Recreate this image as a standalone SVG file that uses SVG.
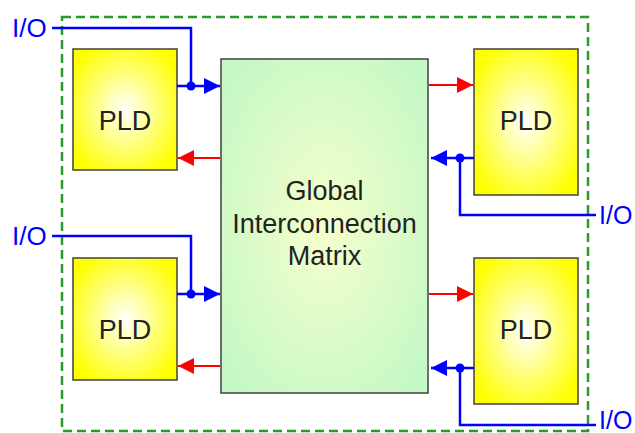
<svg xmlns="http://www.w3.org/2000/svg" width="635" height="433" viewBox="0 0 635 433">
<defs>
<radialGradient id="gPLD" cx="0.5" cy="0.5" r="0.6">
<stop offset="0" stop-color="#ffffff"/>
<stop offset="0.55" stop-color="#ffff70"/>
<stop offset="1" stop-color="#ffff00"/>
</radialGradient>
<radialGradient id="gMat" cx="0.5" cy="0.5" r="0.62">
<stop offset="0" stop-color="#f6ffcc"/>
<stop offset="1" stop-color="#c6f8c6"/>
</radialGradient>
<marker id="aBlue" viewBox="0 0 16 16" refX="16" refY="8" markerWidth="16" markerHeight="16" markerUnits="userSpaceOnUse" orient="auto">
<path d="M0,0 L16,8 L0,16 Z" fill="#0000ff"/>
</marker>
<marker id="aRed" viewBox="0 0 16 16" refX="16" refY="8" markerWidth="16" markerHeight="16" markerUnits="userSpaceOnUse" orient="auto">
<path d="M0,0 L16,8 L0,16 Z" fill="#ff0000"/>
</marker>
</defs>
<style>
.box{stroke:#404040;stroke-width:1.5}
.pld{fill:url(#gPLD)}
.mat{fill:url(#gMat)}
.lbl{font-family:"Liberation Sans",Arial,sans-serif;font-size:27px;fill:#222222;text-anchor:middle}
.io{font-family:"Liberation Sans",Arial,sans-serif;font-size:26px;fill:#0000ff}
.ior{font-family:"Liberation Sans",Arial,sans-serif;font-size:25px;fill:#0000ff}
.blue{fill:none;stroke:#0000ff;stroke-width:2.5}
.red{fill:none;stroke:#ff0000;stroke-width:1.8}
.dot{fill:#0000ff}
.frame{fill:none;stroke:#2a9a2a;stroke-width:2.5;stroke-dasharray:9 5}
</style>
<rect class="frame" x="62" y="17" width="526" height="414"/>
<g id="matrix">
<rect class="box mat" x="221" y="59" width="207" height="334"/>
<text class="lbl" x="324.5" y="200">Global</text>
<text class="lbl" x="324.5" y="233">Interconnection</text>
<text class="lbl" x="324.5" y="265">Matrix</text>
</g>
<g id="pld-tl">
<rect class="box pld" x="73" y="49" width="104" height="121"/>
<text class="lbl" x="125" y="130">PLD</text>
</g>
<g id="pld-bl">
<rect class="box pld" x="73" y="258" width="104" height="122"/>
<text class="lbl" x="125" y="339">PLD</text>
</g>
<g id="pld-tr">
<rect class="box pld" x="474" y="49" width="104" height="146"/>
<text class="lbl" x="526" y="130">PLD</text>
</g>
<g id="pld-br">
<rect class="box pld" x="474" y="258" width="104" height="146"/>
<text class="lbl" x="526" y="339">PLD</text>
</g>
<g id="io-labels">
<text class="io" x="12" y="37">I/O</text>
<text class="io" x="12" y="245">I/O</text>
<text class="ior" x="599" y="224">I/O</text>
<text class="ior" x="599" y="429">I/O</text>
</g>
<g id="connectors">
<polyline class="blue" points="52,28 191,28 191,86"/>
<line class="blue" x1="177" y1="86" x2="220" y2="86" marker-end="url(#aBlue)"/>
<circle class="dot" cx="191" cy="86" r="4.5"/>
<line class="red" x1="220" y1="158" x2="178" y2="158" marker-end="url(#aRed)"/>
<polyline class="blue" points="52,236 191,236 191,294"/>
<line class="blue" x1="177" y1="294" x2="220" y2="294" marker-end="url(#aBlue)"/>
<circle class="dot" cx="191" cy="294" r="4.5"/>
<line class="red" x1="220" y1="366" x2="178" y2="366" marker-end="url(#aRed)"/>
<line class="red" x1="429" y1="85" x2="473" y2="85" marker-end="url(#aRed)"/>
<line class="blue" x1="474" y1="158" x2="431" y2="158" marker-end="url(#aBlue)"/>
<polyline class="blue" points="460,158 460,215 596,215"/>
<circle class="dot" cx="460" cy="158" r="4.5"/>
<line class="red" x1="429" y1="294" x2="473" y2="294" marker-end="url(#aRed)"/>
<line class="blue" x1="474" y1="368" x2="431" y2="368" marker-end="url(#aBlue)"/>
<polyline class="blue" points="460,368 460,425 596,425"/>
<circle class="dot" cx="460" cy="368" r="4.5"/>
</g>
</svg>
